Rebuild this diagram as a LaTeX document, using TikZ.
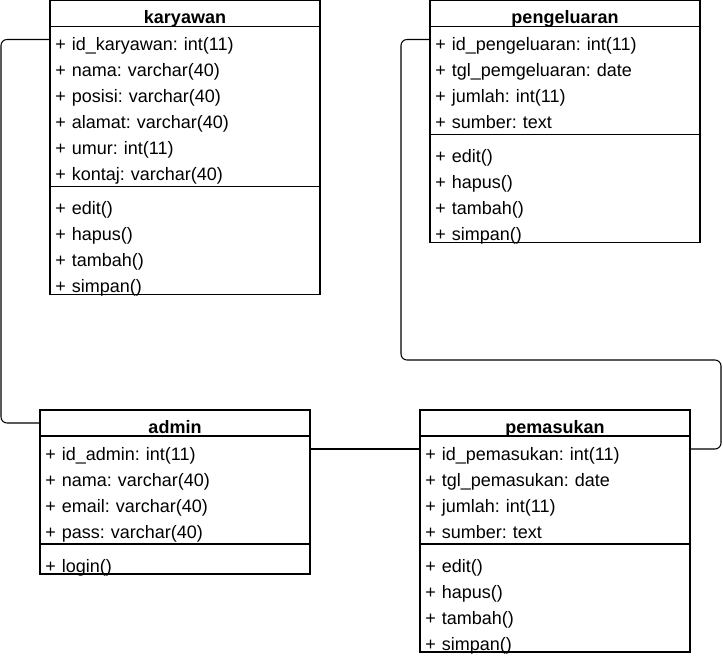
\documentclass[tikz,border=0pt]{standalone}
\usepackage{fontspec}
\setmainfont{Liberation Sans}
\usetikzlibrary{positioning}
\tikzset{
	classhead/.style={inner sep=0pt, outer sep=0pt, minimum width=202.5pt, minimum height=19.5pt,
		text height=16pt, text depth=0.5pt, font=\fontsize{13.5pt}{16pt}\selectfont\bfseries},
	classrow/.style={inner xsep=4pt, inner ysep=0pt, outer sep=0pt, minimum height=19.5pt,
		text width=194.5pt, align=left, text height=16.5pt, text depth=0pt,
		font=\fontsize{13.5pt}{16pt}\selectfont\frenchspacing},
	classframe/.style={line width=0.8pt},
	link/.style={line width=0.8pt, rounded corners=4.5pt}
}

\begin{document}
\begin{tikzpicture}[x=0.75pt, y=-0.75pt]
			%%%%% START %%%%%
			
			\fill[white] (0, 0) rectangle (723, 656);
			\useasboundingbox (0, 0) rectangle (723, 656);
			
			% karyawan
			\node[classhead, anchor=north west] (karTitle) at (50, 0.5) {karyawan};
			\node[classrow, below=0pt of karTitle] (karId) {+ id\_karyawan: int(11)};
			\node[classrow, below=0pt of karId] (karNama) {+ nama: varchar(40)};
			\node[classrow, below=0pt of karNama] (karPosisi) {+ posisi: varchar(40)};
			\node[classrow, below=0pt of karPosisi] (karAlamat) {+ alamat: varchar(40)};
			\node[classrow, below=0pt of karAlamat] (karUmur) {+ umur: int(11)};
			\node[classrow, below=0pt of karUmur] (karKontaj) {+ kontaj: varchar(40)};
			\node[classrow, below=6pt of karKontaj] (karEdit) {+ edit()};
			\node[classrow, below=0pt of karEdit] (karHapus) {+ hapus()};
			\node[classrow, below=0pt of karHapus] (karTambah) {+ tambah()};
			\node[classrow, below=0pt of karTambah] (karSimpan) {+ simpan()};
			\draw[classframe] (karTitle.north west) rectangle (karSimpan.south east);
			\draw[classframe] (karTitle.south west) -- (karTitle.south east);
			\draw[classframe] ([yshift=-3pt]karKontaj.south west) -- ([yshift=-3pt]karKontaj.south east);
			
			% pengeluaran
			\node[classhead, anchor=north west] (pegTitle) at (430, 0.5) {pengeluaran};
			\node[classrow, below=0pt of pegTitle] (pegId) {+ id\_pengeluaran: int(11)};
			\node[classrow, below=0pt of pegId] (pegTgl) {+ tgl\_pemgeluaran: date};
			\node[classrow, below=0pt of pegTgl] (pegJumlah) {+ jumlah: int(11)};
			\node[classrow, below=0pt of pegJumlah] (pegSumber) {+ sumber: text};
			\node[classrow, below=6pt of pegSumber] (pegEdit) {+ edit()};
			\node[classrow, below=0pt of pegEdit] (pegHapus) {+ hapus()};
			\node[classrow, below=0pt of pegHapus] (pegTambah) {+ tambah()};
			\node[classrow, below=0pt of pegTambah] (pegSimpan) {+ simpan()};
			\draw[classframe] (pegTitle.north west) rectangle (pegSimpan.south east);
			\draw[classframe] (pegTitle.south west) -- (pegTitle.south east);
			\draw[classframe] ([yshift=-3pt]pegSumber.south west) -- ([yshift=-3pt]pegSumber.south east);
			
			% admin
			\node[classhead, anchor=north west] (admTitle) at (40, 410) {admin};
			\node[classrow, below=0pt of admTitle] (admId) {+ id\_admin: int(11)};
			\node[classrow, below=0pt of admId] (admNama) {+ nama: varchar(40)};
			\node[classrow, below=0pt of admNama] (admEmail) {+ email: varchar(40)};
			\node[classrow, below=0pt of admEmail] (admPass) {+ pass: varchar(40)};
			\node[classrow, below=6pt of admPass] (admLogin) {+ login()};
			\draw[classframe] (admTitle.north west) rectangle (admLogin.south east);
			\draw[classframe] (admTitle.south west) -- (admTitle.south east);
			\draw[classframe] ([yshift=-3pt]admPass.south west) -- ([yshift=-3pt]admPass.south east);
			
			% pemasukan
			\node[classhead, anchor=north west] (pemTitle) at (420, 410) {pemasukan};
			\node[classrow, below=0pt of pemTitle] (pemId) {+ id\_pemasukan: int(11)};
			\node[classrow, below=0pt of pemId] (pemTgl) {+ tgl\_pemasukan: date};
			\node[classrow, below=0pt of pemTgl] (pemJumlah) {+ jumlah: int(11)};
			\node[classrow, below=0pt of pemJumlah] (pemSumber) {+ sumber: text};
			\node[classrow, below=6pt of pemSumber] (pemEdit) {+ edit()};
			\node[classrow, below=0pt of pemEdit] (pemHapus) {+ hapus()};
			\node[classrow, below=0pt of pemHapus] (pemTambah) {+ tambah()};
			\node[classrow, below=0pt of pemTambah] (pemSimpan) {+ simpan()};
			\draw[classframe] (pemTitle.north west) rectangle (pemSimpan.south east);
			\draw[classframe] (pemTitle.south west) -- (pemTitle.south east);
			\draw[classframe] ([yshift=-3pt]pemSumber.south west) -- ([yshift=-3pt]pemSumber.south east);
			
			% links
			\coordinate (pegBend) at (721, 360);
			\draw[link] (karId.west) -- ++(-49, 0) |- (admTitle.west);
			\draw[link] (pegId.west) -- ++(-29, 0) |- (pegBend) |- (pemId.east);
			\draw[link] (admId.east) -- (pemId.west);
			
			%%%%% END %%%%%
		\end{tikzpicture}
\end{document}
